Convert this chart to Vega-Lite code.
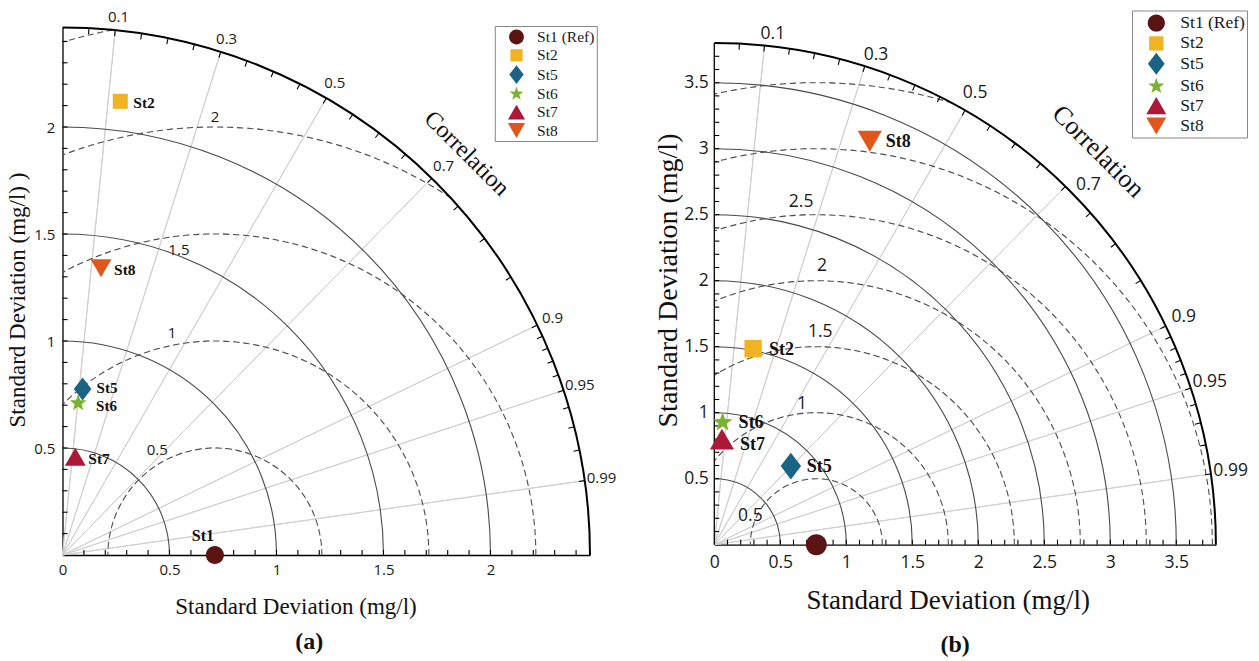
{
  "$schema": "https://vega.github.io/schema/vega-lite/v6.json",
  "background": "white",
  "padding": {"left": 6.5, "top": 9.5, "right": 5, "bottom": 5},
  "bounds": "flush",
  "spacing": 123.8,
  "config": {
    "view": {"stroke": null},
    "axis": {"grid": false, "domainColor": "#000", "domainWidth": 1.3, "labelFlush": false, "labelOverlap": false, "labelColor": "#1a1a1a", "labelFont": "Open Sans", "titleFont": "Liberation Serif", "titleFontWeight": "normal", "titleColor": "#111"}
  },
  "resolve": {
    "scale": {"x": "independent", "y": "independent", "color": "independent", "shape": "independent", "radius": "independent", "theta": "independent"},
    "legend": {"color": "independent", "shape": "independent"}
  },
  "datasets": {
    "corrLab": [
      {"label": "0.1", "angle": 5.739}, {"label": "0.3", "angle": 17.458}, {"label": "0.5", "angle": 30},
      {"label": "0.7", "angle": 44.427}, {"label": "0.9", "angle": 64.158}, {"label": "0.95", "angle": 71.805},
      {"label": "0.99", "angle": 81.89}
    ],
    "corrTick": [
      {"corr": 0.05, "angle": 2.866}, {"corr": 0.1, "angle": 5.739}, {"corr": 0.15, "angle": 8.627}, {"corr": 0.2, "angle": 11.537},
      {"corr": 0.25, "angle": 14.478}, {"corr": 0.3, "angle": 17.458}, {"corr": 0.35, "angle": 20.487}, {"corr": 0.4, "angle": 23.578},
      {"corr": 0.45, "angle": 26.744}, {"corr": 0.5, "angle": 30}, {"corr": 0.55, "angle": 33.367}, {"corr": 0.6, "angle": 36.87},
      {"corr": 0.65, "angle": 40.542}, {"corr": 0.7, "angle": 44.427}, {"corr": 0.75, "angle": 48.59}, {"corr": 0.8, "angle": 53.13},
      {"corr": 0.85, "angle": 58.212}, {"corr": 0.9, "angle": 64.158}, {"corr": 0.91, "angle": 65.505}, {"corr": 0.92, "angle": 66.926},
      {"corr": 0.93, "angle": 68.437}, {"corr": 0.94, "angle": 70.052}, {"corr": 0.95, "angle": 71.805}, {"corr": 0.96, "angle": 73.74},
      {"corr": 0.97, "angle": 75.93}, {"corr": 0.98, "angle": 78.522}, {"corr": 0.99, "angle": 81.89}
    ],
    "sdTickA": [
      {"v": 0.1}, {"v": 0.2}, {"v": 0.3}, {"v": 0.4}, {"v": 0.5}, {"v": 0.6}, {"v": 0.7}, {"v": 0.8}, {"v": 0.9}, {"v": 1},
      {"v": 1.1}, {"v": 1.2}, {"v": 1.3}, {"v": 1.4}, {"v": 1.5}, {"v": 1.6}, {"v": 1.7}, {"v": 1.8}, {"v": 1.9}, {"v": 2},
      {"v": 2.1}, {"v": 2.2}, {"v": 2.3}, {"v": 2.4}
    ],
    "sdTickB": [
      {"v": 0.1}, {"v": 0.2}, {"v": 0.3}, {"v": 0.4}, {"v": 0.5}, {"v": 0.6}, {"v": 0.7}, {"v": 0.8}, {"v": 0.9}, {"v": 1},
      {"v": 1.1}, {"v": 1.2}, {"v": 1.3}, {"v": 1.4}, {"v": 1.5}, {"v": 1.6}, {"v": 1.7}, {"v": 1.8}, {"v": 1.9}, {"v": 2},
      {"v": 2.1}, {"v": 2.2}, {"v": 2.3}, {"v": 2.4}, {"v": 2.5}, {"v": 2.6}, {"v": 2.7}, {"v": 2.8}, {"v": 2.9}, {"v": 3},
      {"v": 3.1}, {"v": 3.2}, {"v": 3.3}, {"v": 3.4}, {"v": 3.5}, {"v": 3.6}, {"v": 3.7}
    ],
    "ptsA": [
      {"station": "St1", "legend": "St1 (Ref)", "x": 0.712, "y": 0},
      {"station": "St2", "legend": "St2", "x": 0.27, "y": 2.12},
      {"station": "St5", "legend": "St5", "x": 0.094, "y": 0.776},
      {"station": "St6", "legend": "\u00a0St6", "x": 0.073, "y": 0.71},
      {"station": "St7", "legend": "\u00a0St7", "x": 0.06, "y": 0.459},
      {"station": "St8", "legend": "St8", "x": 0.18, "y": 1.34}
    ],
    "ptsB": [
      {"station": "St1", "legend": "St1 (Ref)", "x": 0.773, "y": 0},
      {"station": "St2", "legend": "St2", "x": 0.294, "y": 1.485},
      {"station": "St5", "legend": "St5", "x": 0.58, "y": 0.596},
      {"station": "St6", "legend": "\u00a0St6", "x": 0.063, "y": 0.927},
      {"station": "St7", "legend": "\u00a0St7", "x": 0.058, "y": 0.8},
      {"station": "St8", "legend": "St8", "x": 1.178, "y": 3.057}
    ]
  },
  "hconcat": [
    {
      "width": 527.5,
      "height": 527.5,
      "title": {"text": "(a)", "orient": "bottom", "anchor": "middle", "frame": "group", "font": "Liberation Serif", "fontSize": 24, "fontWeight": "bold", "color": "#111", "offset": 11, "dx": -17},
      "resolve": {"axis": {"x": "independent", "y": "independent"}},
      "layer": [
        {
          "data": {"name": "corrLab"},
          "mark": {"type": "arc", "filled": false, "stroke": "#cfcfcf", "strokeWidth": 1},
          "encoding": {
            "x": {"datum": 0, "type": "quantitative", "axis": null},
            "y": {"datum": 0, "type": "quantitative", "axis": null},
            "theta": {"field": "angle", "type": "quantitative", "stack": null, "scale": {"type": "linear", "domain": [0, 360], "range": [0, 6.283185307179586], "nice": false, "zero": false}},
            "theta2": {"field": "angle"},
            "radius": {"datum": 0, "type": "quantitative", "scale": {"type": "linear", "domain": [0, 2.465], "range": [0, 527.5], "nice": false, "zero": false}},
            "radius2": {"datum": 2.465}
          }
        },
        {
          "data": {"values": [{"s": 0.5}, {"s": 1}, {"s": 1.5}, {"s": 2}]},
          "mark": {"type": "arc", "filled": false, "stroke": "#4a4a4a", "strokeWidth": 1.1},
          "encoding": {
            "x": {"datum": 0, "type": "quantitative", "axis": null},
            "y": {"datum": 0, "type": "quantitative", "axis": null},
            "theta": {"datum": 0, "type": "quantitative"},
            "theta2": {"datum": 90},
            "radius": {"field": "s", "type": "quantitative", "stack": null},
            "radius2": {"field": "s"}
          }
        },
        {
          "data": {"values": [{"r": 0.5, "t1": 90, "t2": -90}]},
          "mark": {"type": "arc", "filled": false, "stroke": "#505050", "strokeWidth": 1.1, "strokeDash": [6, 4.096]},
          "encoding": {"x": {"datum": 0.712, "type": "quantitative", "axis": null}, "y": {"datum": 0, "type": "quantitative", "axis": null}, "theta": {"field": "t1", "type": "quantitative", "stack": null}, "theta2": {"field": "t2"}, "radius": {"field": "r", "type": "quantitative", "stack": null}, "radius2": {"field": "r"}}
        },
        {
          "data": {"values": [{"r": 1, "t1": 90, "t2": -45.4}]},
          "mark": {"type": "arc", "filled": false, "stroke": "#505050", "strokeWidth": 1.1, "strokeDash": [6, 4.054]},
          "encoding": {"x": {"datum": 0.712, "type": "quantitative", "axis": null}, "y": {"datum": 0, "type": "quantitative", "axis": null}, "theta": {"field": "t1", "type": "quantitative", "stack": null}, "theta2": {"field": "t2"}, "radius": {"field": "r", "type": "quantitative", "stack": null}, "radius2": {"field": "r"}}
        },
        {
          "data": {"values": [{"r": 1.5, "t1": 90, "t2": -28.33}]},
          "mark": {"type": "arc", "filled": false, "stroke": "#505050", "strokeWidth": 1.1, "strokeDash": [6, 3.999]},
          "encoding": {"x": {"datum": 0.712, "type": "quantitative", "axis": null}, "y": {"datum": 0, "type": "quantitative", "axis": null}, "theta": {"field": "t1", "type": "quantitative", "stack": null}, "theta2": {"field": "t2"}, "radius": {"field": "r", "type": "quantitative", "stack": null}, "radius2": {"field": "r"}}
        },
        {
          "data": {"values": [{"r": 2, "t1": 33.44, "t2": -20.86}]},
          "mark": {"type": "arc", "filled": false, "stroke": "#505050", "strokeWidth": 1.1, "strokeDash": [6, 4.066]},
          "encoding": {"x": {"datum": 0.712, "type": "quantitative", "axis": null}, "y": {"datum": 0, "type": "quantitative", "axis": null}, "theta": {"field": "t1", "type": "quantitative", "stack": null}, "theta2": {"field": "t2"}, "radius": {"field": "r", "type": "quantitative", "stack": null}, "radius2": {"field": "r"}}
        },
        {
          "data": {"values": [{"r": 2.5, "t1": -11.02, "t2": -16.55}]},
          "mark": {"type": "arc", "filled": false, "stroke": "#505050", "strokeWidth": 1.1, "strokeDash": [6, 3.728]},
          "encoding": {"x": {"datum": 0.712, "type": "quantitative", "axis": null}, "y": {"datum": 0, "type": "quantitative", "axis": null}, "theta": {"field": "t1", "type": "quantitative", "stack": null}, "theta2": {"field": "t2"}, "radius": {"field": "r", "type": "quantitative", "stack": null}, "radius2": {"field": "r"}}
        },
        {
          "data": {"values": [{}]},
          "mark": {"type": "arc", "filled": false, "stroke": "#000", "strokeWidth": 2},
          "encoding": {
            "x": {"datum": 0, "type": "quantitative", "axis": null},
            "y": {"datum": 0, "type": "quantitative", "axis": null},
            "theta": {"datum": 0, "type": "quantitative"},
            "theta2": {"datum": 90},
            "radius": {"datum": 2.465, "type": "quantitative"},
            "radius2": {"datum": 2.465}
          }
        },
        {
          "data": {"name": "corrTick"},
          "mark": {"type": "arc", "filled": false, "stroke": "#000", "strokeWidth": 1.1},
          "encoding": {
            "x": {"datum": 0, "type": "quantitative", "axis": null},
            "y": {"datum": 0, "type": "quantitative", "axis": null},
            "theta": {"field": "angle", "type": "quantitative", "stack": null},
            "theta2": {"field": "angle"},
            "radius": {"datum": 2.437, "type": "quantitative"},
            "radius2": {"datum": 2.465}
          }
        },
        {
          "data": {"name": "sdTickA"},
          "mark": {"type": "rule", "color": "#000", "strokeWidth": 1.1},
          "encoding": {
            "x": {"field": "v", "type": "quantitative", "axis": null},
            "y": {"datum": 0, "type": "quantitative", "axis": null},
            "y2": {"datum": 0.0234}
          }
        },
        {
          "data": {"name": "sdTickA"},
          "mark": {"type": "rule", "color": "#000", "strokeWidth": 1.1},
          "encoding": {
            "y": {"field": "v", "type": "quantitative", "axis": null},
            "x": {"datum": 0, "type": "quantitative", "axis": null},
            "x2": {"datum": 0.0234}
          }
        },
        {
          "data": {"name": "corrLab"},
          "transform": [{"filter": "datum.angle < 20"}],
          "mark": {"type": "text", "font": "Open Sans", "fontSize": 15, "color": "#1a1a1a", "align": "center", "baseline": "middle", "radiusOffset": 13, "dx": 2},
          "encoding": {
            "x": {"datum": 0, "type": "quantitative", "axis": null},
            "y": {"datum": 0, "type": "quantitative", "axis": null},
            "theta": {"field": "angle", "type": "quantitative", "stack": null},
            "radius": {"datum": 2.465, "type": "quantitative"},
            "text": {"field": "label"}
          }
        },
        {
          "data": {"name": "corrLab"},
          "transform": [{"filter": "datum.angle > 20"}],
          "mark": {"type": "text", "font": "Open Sans", "fontSize": 15, "color": "#1a1a1a", "align": "center", "baseline": "middle", "radiusOffset": 17},
          "encoding": {
            "x": {"datum": 0, "type": "quantitative", "axis": null},
            "y": {"datum": 0, "type": "quantitative", "axis": null},
            "theta": {"field": "angle", "type": "quantitative", "stack": null},
            "radius": {"datum": 2.465, "type": "quantitative"},
            "text": {"field": "label"}
          }
        },
        {
          "data": {"values": [{"t": "Correlation"}]},
          "mark": {"type": "text", "font": "Liberation Serif", "fontSize": 24, "color": "#111", "align": "center", "baseline": "middle", "angle": 45, "radiusOffset": 42},
          "encoding": {
            "x": {"datum": 0, "type": "quantitative", "axis": null},
            "y": {"datum": 0, "type": "quantitative", "axis": null},
            "theta": {"datum": 45.2, "type": "quantitative"},
            "radius": {"datum": 2.465, "type": "quantitative"},
            "text": {"field": "t"}
          }
        },
        {
          "data": {"values": [
            {"lab": "0.5", "lx": 0.443, "ly": 0.493},
            {"lab": "1", "lx": 0.512, "ly": 1.037},
            {"lab": "1.5", "lx": 0.544, "ly": 1.425},
            {"lab": "2", "lx": 0.713, "ly": 2.048}
          ]},
          "mark": {"type": "text", "font": "Open Sans", "fontSize": 15, "color": "#1a1a1a", "align": "center", "baseline": "middle"},
          "encoding": {
            "x": {"field": "lx", "type": "quantitative", "axis": null},
            "y": {"field": "ly", "type": "quantitative", "axis": null},
            "text": {"field": "lab"}
          }
        },
        {
          "data": {"name": "ptsA"},
          "mark": {"type": "point", "filled": true, "opacity": 1, "size": 484, "strokeWidth": 0},
          "encoding": {
            "x": {"field": "x", "type": "quantitative", "scale": {"domain": [0, 2.465], "nice": false, "zero": false},
              "axis": {"orient": "bottom", "values": [0, 0.5, 1, 1.5, 2], "format": "~g", "ticks": false, "labelOverlap": false, "labelFlush": false,
                "labelFontSize": 15, "labelPadding": 7, "title": "Standard Deviation (mg/l)", "titleFontSize": 23, "titlePadding": 18.5, "titleX": 233}},
            "y": {"field": "y", "type": "quantitative", "scale": {"domain": [0, 2.465], "nice": false, "zero": false},
              "axis": {"orient": "left", "values": [0.5, 1, 1.5, 2], "format": "~g", "ticks": false, "labelOverlap": false, "labelFlush": false,
                "labelFontSize": 15, "labelPadding": 7.7, "title": "Standard Deviation (mg/l) )", "titleFontSize": 23, "titlePadding": 4, "titleY": 272}},
            "color": {"field": "legend", "type": "nominal",
              "scale": {"domain": ["St1 (Ref)", "St2", "St5", "\u00a0St6", "\u00a0St7", "St8"], "range": ["#5a1414", "#f0b323", "#1b6384", "#78b32e", "#ac1838", "#e0561b"]},
              "legend": {"title": null, "orient": "none", "legendX": 432.3, "legendY": -1.5, "labelFont": "Liberation Serif", "labelFontSize": 15.5, "labelColor": "#1a1a1a", "symbolSize": 324, "symbolStrokeWidth": 0, "symbolOffset": 10.7, "strokeColor": "#888", "fillColor": "#fff", "padding": 2, "rowPadding": 0.3, "labelOffset": 11.6}},
            "shape": {"field": "legend", "type": "nominal",
              "scale": {"domain": ["St1 (Ref)", "St2", "St5", "\u00a0St6", "\u00a0St7", "St8"], "range": [
                "M0.82,0A0.82,0.82,0,1,1,-0.82,0A0.82,0.82,0,1,1,0.82,0Z",
                "M-0.68,-0.68L0.68,-0.68L0.68,0.68L-0.68,0.68Z",
                "M0,-1.05L0.8,0L0,1.05L-0.8,0Z",
                "M0,-0.8L0.194,-0.267L0.761,-0.247L0.314,0.102L0.47,0.647L0,0.33L-0.47,0.647L-0.314,0.102L-0.761,-0.247L-0.194,-0.267Z",
                "M0,-0.82L0.95,0.82L-0.95,0.82Z",
                "M-0.95,-0.82L0.95,-0.82L0,0.82Z"]},
              "legend": {"title": null, "orient": "none", "legendX": 432.3, "legendY": -1.5, "labelFont": "Liberation Serif", "labelFontSize": 15.5, "labelColor": "#1a1a1a", "symbolSize": 324, "symbolStrokeWidth": 0, "symbolOffset": 10.7, "strokeColor": "#888", "fillColor": "#fff", "padding": 2, "rowPadding": 0.3, "labelOffset": 11.6}}
          }
        },
        {
          "data": {"name": "ptsA"},
          "transform": [{"filter": "datum.station == 'St2' || datum.station == 'St8' || datum.station == 'St7'"}],
          "mark": {"type": "text", "font": "Liberation Serif", "fontSize": 15.5, "fontWeight": "bold", "color": "#111", "align": "left", "baseline": "middle", "dx": 13, "dy": 2},
          "encoding": {
            "x": {"field": "x", "type": "quantitative", "axis": null},
            "y": {"field": "y", "type": "quantitative", "axis": null},
            "text": {"field": "station"}
          }
        },
        {
          "data": {"name": "ptsA"},
          "transform": [{"filter": "datum.station == 'St5'"}],
          "mark": {"type": "text", "font": "Liberation Serif", "fontSize": 15, "fontWeight": "bold", "color": "#111", "align": "left", "baseline": "middle", "dx": 14, "dy": -1},
          "encoding": {
            "x": {"field": "x", "type": "quantitative", "axis": null},
            "y": {"field": "y", "type": "quantitative", "axis": null},
            "text": {"field": "station"}
          }
        },
        {
          "data": {"name": "ptsA"},
          "transform": [{"filter": "datum.station == 'St6'"}],
          "mark": {"type": "text", "font": "Liberation Serif", "fontSize": 15, "fontWeight": "bold", "color": "#111", "align": "left", "baseline": "middle", "dx": 18, "dy": 3},
          "encoding": {
            "x": {"field": "x", "type": "quantitative", "axis": null},
            "y": {"field": "y", "type": "quantitative", "axis": null},
            "text": {"field": "station"}
          }
        },
        {
          "data": {"name": "ptsA"},
          "transform": [{"filter": "datum.station == 'St1'"}],
          "mark": {"type": "text", "font": "Liberation Serif", "fontSize": 16, "fontWeight": "bold", "color": "#111", "align": "center", "baseline": "middle", "dx": -12, "dy": -19},
          "encoding": {
            "x": {"field": "x", "type": "quantitative", "axis": null},
            "y": {"field": "y", "type": "quantitative", "axis": null},
            "text": {"field": "station"}
          }
        }
      ]
    },
    {
      "width": 501.6,
      "height": 517.2,
      "title": {"text": "(b)", "orient": "bottom", "anchor": "middle", "frame": "group", "font": "Liberation Serif", "fontSize": 24, "fontWeight": "bold", "color": "#111", "offset": 19, "dx": -10},
      "resolve": {"axis": {"x": "independent", "y": "independent"}},
      "layer": [
        {
          "data": {"name": "corrLab"},
          "mark": {"type": "arc", "filled": false, "stroke": "#cfcfcf", "strokeWidth": 1},
          "encoding": {
            "x": {"datum": 0, "type": "quantitative", "axis": null},
            "y": {"datum": 0, "type": "quantitative", "axis": null},
            "theta": {"field": "angle", "type": "quantitative", "stack": null, "scale": {"type": "linear", "domain": [0, 360], "range": [0, 6.283185307179586], "nice": false, "zero": false}},
            "theta2": {"field": "angle"},
            "radius": {"datum": 0, "type": "quantitative", "scale": {"type": "linear", "domain": [0, 3.8], "range": [0, 501.6], "nice": false, "zero": false}},
            "radius2": {"datum": 3.8}
          }
        },
        {
          "data": {"values": [{"s": 0.5}, {"s": 1}, {"s": 1.5}, {"s": 2}, {"s": 2.5}, {"s": 3}, {"s": 3.5}]},
          "mark": {"type": "arc", "filled": false, "stroke": "#4a4a4a", "strokeWidth": 1.1},
          "encoding": {
            "x": {"datum": 0, "type": "quantitative", "axis": null},
            "y": {"datum": 0, "type": "quantitative", "axis": null},
            "theta": {"datum": 0, "type": "quantitative"},
            "theta2": {"datum": 90},
            "radius": {"field": "s", "type": "quantitative", "stack": null},
            "radius2": {"field": "s"}
          }
        },
        {
          "data": {"values": [{"r": 0.5, "t1": 90, "t2": -90}]},
          "mark": {"type": "arc", "filled": false, "stroke": "#505050", "strokeWidth": 1.1, "strokeDash": [6, 4.217]},
          "encoding": {"x": {"datum": 0.773, "type": "quantitative", "axis": null}, "y": {"datum": 0, "type": "quantitative", "axis": null}, "theta": {"field": "t1", "type": "quantitative", "stack": null}, "theta2": {"field": "t2"}, "radius": {"field": "r", "type": "quantitative", "stack": null}, "radius2": {"field": "r"}}
        },
        {
          "data": {"values": [{"r": 1, "t1": 90, "t2": -50.62}]},
          "mark": {"type": "arc", "filled": false, "stroke": "#505050", "strokeWidth": 1.1, "strokeDash": [6, 4.03]},
          "encoding": {"x": {"datum": 0.773, "type": "quantitative", "axis": null}, "y": {"datum": 0, "type": "quantitative", "axis": null}, "theta": {"field": "t1", "type": "quantitative", "stack": null}, "theta2": {"field": "t2"}, "radius": {"field": "r", "type": "quantitative", "stack": null}, "radius2": {"field": "r"}}
        },
        {
          "data": {"values": [{"r": 1.5, "t1": 90, "t2": -31.02}]},
          "mark": {"type": "arc", "filled": false, "stroke": "#505050", "strokeWidth": 1.1, "strokeDash": [6, 3.886]},
          "encoding": {"x": {"datum": 0.773, "type": "quantitative", "axis": null}, "y": {"datum": 0, "type": "quantitative", "axis": null}, "theta": {"field": "t1", "type": "quantitative", "stack": null}, "theta2": {"field": "t2"}, "radius": {"field": "r", "type": "quantitative", "stack": null}, "radius2": {"field": "r"}}
        },
        {
          "data": {"values": [{"r": 2, "t1": 90, "t2": -22.74}]},
          "mark": {"type": "arc", "filled": false, "stroke": "#505050", "strokeWidth": 1.1, "strokeDash": [6, 3.932]},
          "encoding": {"x": {"datum": 0.773, "type": "quantitative", "axis": null}, "y": {"datum": 0, "type": "quantitative", "axis": null}, "theta": {"field": "t1", "type": "quantitative", "stack": null}, "theta2": {"field": "t2"}, "radius": {"field": "r", "type": "quantitative", "stack": null}, "radius2": {"field": "r"}}
        },
        {
          "data": {"values": [{"r": 2.5, "t1": 90, "t2": -18.01}]},
          "mark": {"type": "arc", "filled": false, "stroke": "#505050", "strokeWidth": 1.1, "strokeDash": [6, 3.985]},
          "encoding": {"x": {"datum": 0.773, "type": "quantitative", "axis": null}, "y": {"datum": 0, "type": "quantitative", "axis": null}, "theta": {"field": "t1", "type": "quantitative", "stack": null}, "theta2": {"field": "t2"}, "radius": {"field": "r", "type": "quantitative", "stack": null}, "radius2": {"field": "r"}}
        },
        {
          "data": {"values": [{"r": 3, "t1": 90, "t2": -14.93}]},
          "mark": {"type": "arc", "filled": false, "stroke": "#505050", "strokeWidth": 1.1, "strokeDash": [6, 4.031]},
          "encoding": {"x": {"datum": 0.773, "type": "quantitative", "axis": null}, "y": {"datum": 0, "type": "quantitative", "axis": null}, "theta": {"field": "t1", "type": "quantitative", "stack": null}, "theta2": {"field": "t2"}, "radius": {"field": "r", "type": "quantitative", "stack": null}, "radius2": {"field": "r"}}
        },
        {
          "data": {"values": [{"r": 3.5, "t1": 17.12, "t2": -12.76}]},
          "mark": {"type": "arc", "filled": false, "stroke": "#505050", "strokeWidth": 1.1, "strokeDash": [6, 3.914]},
          "encoding": {"x": {"datum": 0.773, "type": "quantitative", "axis": null}, "y": {"datum": 0, "type": "quantitative", "axis": null}, "theta": {"field": "t1", "type": "quantitative", "stack": null}, "theta2": {"field": "t2"}, "radius": {"field": "r", "type": "quantitative", "stack": null}, "radius2": {"field": "r"}}
        },
        {
          "data": {"values": [{}]},
          "mark": {"type": "arc", "filled": false, "stroke": "#000", "strokeWidth": 2},
          "encoding": {
            "x": {"datum": 0, "type": "quantitative", "axis": null},
            "y": {"datum": 0, "type": "quantitative", "axis": null},
            "theta": {"datum": 0, "type": "quantitative"},
            "theta2": {"datum": 90},
            "radius": {"datum": 3.8, "type": "quantitative"},
            "radius2": {"datum": 3.8}
          }
        },
        {
          "data": {"name": "corrTick"},
          "mark": {"type": "arc", "filled": false, "stroke": "#000", "strokeWidth": 1.1},
          "encoding": {
            "x": {"datum": 0, "type": "quantitative", "axis": null},
            "y": {"datum": 0, "type": "quantitative", "axis": null},
            "theta": {"field": "angle", "type": "quantitative", "stack": null},
            "theta2": {"field": "angle"},
            "radius": {"datum": 3.755, "type": "quantitative"},
            "radius2": {"datum": 3.8}
          }
        },
        {
          "data": {"values": [{}]},
          "mark": {"type": "rule", "color": "#000", "strokeWidth": 1.3},
          "encoding": {
            "x": {"datum": 0, "type": "quantitative", "axis": null},
            "y": {"datum": 0, "type": "quantitative", "axis": null},
            "y2": {"datum": 3.8}
          }
        },
        {
          "data": {"name": "sdTickB"},
          "mark": {"type": "rule", "color": "#000", "strokeWidth": 1.1},
          "encoding": {
            "x": {"field": "v", "type": "quantitative", "axis": null},
            "y": {"datum": 0, "type": "quantitative", "axis": null},
            "y2": {"datum": 0.0379}
          }
        },
        {
          "data": {"name": "sdTickB"},
          "mark": {"type": "rule", "color": "#000", "strokeWidth": 1.1},
          "encoding": {
            "y": {"field": "v", "type": "quantitative", "axis": null},
            "x": {"datum": 0, "type": "quantitative", "axis": null},
            "x2": {"datum": 0.0379}
          }
        },
        {
          "data": {"name": "corrLab"},
          "transform": [{"filter": "datum.angle < 20"}],
          "mark": {"type": "text", "font": "Open Sans", "fontSize": 17.5, "color": "#1a1a1a", "align": "center", "baseline": "middle", "radiusOffset": 14, "dx": 7, "dy": 2},
          "encoding": {
            "x": {"datum": 0, "type": "quantitative", "axis": null},
            "y": {"datum": 0, "type": "quantitative", "axis": null},
            "theta": {"field": "angle", "type": "quantitative", "stack": null},
            "radius": {"datum": 3.8, "type": "quantitative"},
            "text": {"field": "label"}
          }
        },
        {
          "data": {"name": "corrLab"},
          "transform": [{"filter": "datum.angle > 20 && datum.label != '0.7'"}],
          "mark": {"type": "text", "font": "Open Sans", "fontSize": 17.5, "color": "#1a1a1a", "align": "center", "baseline": "middle", "radiusOffset": 20},
          "encoding": {
            "x": {"datum": 0, "type": "quantitative", "axis": null},
            "y": {"datum": 0, "type": "quantitative", "axis": null},
            "theta": {"field": "angle", "type": "quantitative", "stack": null},
            "radius": {"datum": 3.8, "type": "quantitative"},
            "text": {"field": "label"}
          }
        },
        {
          "data": {"name": "corrLab"},
          "transform": [{"filter": "datum.label == '0.7'"}],
          "mark": {"type": "text", "font": "Open Sans", "fontSize": 17.5, "color": "#1a1a1a", "align": "center", "baseline": "middle", "radiusOffset": 20, "dx": 9, "dy": 13},
          "encoding": {
            "x": {"datum": 0, "type": "quantitative", "axis": null},
            "y": {"datum": 0, "type": "quantitative", "axis": null},
            "theta": {"field": "angle", "type": "quantitative", "stack": null},
            "radius": {"datum": 3.8, "type": "quantitative"},
            "text": {"field": "label"}
          }
        },
        {
          "data": {"values": [{"t": "Correlation"}]},
          "mark": {"type": "text", "font": "Liberation Serif", "fontSize": 26, "color": "#111", "align": "center", "baseline": "middle", "angle": 45, "radiusOffset": 48},
          "encoding": {
            "x": {"datum": 0, "type": "quantitative", "axis": null},
            "y": {"datum": 0, "type": "quantitative", "axis": null},
            "theta": {"datum": 44.3, "type": "quantitative"},
            "radius": {"datum": 3.8, "type": "quantitative"},
            "text": {"field": "t"}
          }
        },
        {
          "data": {"values": [
            {"lab": "0.5", "lx": 0.273, "ly": 0.22},
            {"lab": "1", "lx": 0.664, "ly": 1.066},
            {"lab": "1.5", "lx": 0.803, "ly": 1.611},
            {"lab": "2", "lx": 0.816, "ly": 2.108},
            {"lab": "2.5", "lx": 0.658, "ly": 2.594}
          ]},
          "mark": {"type": "text", "font": "Open Sans", "fontSize": 17.5, "color": "#1a1a1a", "align": "center", "baseline": "middle"},
          "encoding": {
            "x": {"field": "lx", "type": "quantitative", "axis": null},
            "y": {"field": "ly", "type": "quantitative", "axis": null},
            "text": {"field": "lab"}
          }
        },
        {
          "data": {"name": "ptsB"},
          "mark": {"type": "point", "filled": true, "opacity": 1, "size": 650, "strokeWidth": 0},
          "encoding": {
            "x": {"field": "x", "type": "quantitative", "scale": {"domain": [0, 3.8], "nice": false, "zero": false},
              "axis": {"orient": "bottom", "values": [0, 0.5, 1, 1.5, 2, 2.5, 3, 3.5], "format": "~g", "ticks": false, "labelOverlap": false, "labelFlush": false,
                "labelFontSize": 17.5, "labelPadding": 9, "title": "Standard Deviation (mg/l)", "titleFontSize": 27, "titlePadding": 16.5, "titleX": 233.5}},
            "y": {"field": "y", "type": "quantitative", "scale": {"domain": [0, 3.9182], "nice": false, "zero": false},
              "axis": {"orient": "left", "values": [0.5, 1, 1.5, 2, 2.5, 3, 3.5], "format": "~g", "ticks": false, "domain": false, "labelOverlap": false, "labelFlush": false,
                "labelFontSize": 17.5, "labelPadding": 6, "title": "Standard Deviation (mg/l)", "titleFontSize": 28, "titlePadding": 1, "titleY": 252.5}},
            "color": {"field": "legend", "type": "nominal",
              "scale": {"domain": ["St1 (Ref)", "St2", "St5", "\u00a0St6", "\u00a0St7", "St8"], "range": ["#5a1414", "#f0b323", "#1b6384", "#78b32e", "#ac1838", "#e0561b"]},
              "legend": {"title": null, "orient": "none", "legendX": 417.7, "legendY": -17, "labelFont": "Liberation Serif", "labelFontSize": 17.5, "labelColor": "#1a1a1a", "symbolSize": 441, "symbolStrokeWidth": 0, "symbolOffset": 11.8, "strokeColor": "#888", "fillColor": "#fff", "padding": 2, "rowPadding": 0.4, "labelOffset": 13.5}},
            "shape": {"field": "legend", "type": "nominal",
              "scale": {"domain": ["St1 (Ref)", "St2", "St5", "\u00a0St6", "\u00a0St7", "St8"], "range": [
                "M0.82,0A0.82,0.82,0,1,1,-0.82,0A0.82,0.82,0,1,1,0.82,0Z",
                "M-0.68,-0.68L0.68,-0.68L0.68,0.68L-0.68,0.68Z",
                "M0,-1.05L0.8,0L0,1.05L-0.8,0Z",
                "M0,-0.8L0.194,-0.267L0.761,-0.247L0.314,0.102L0.47,0.647L0,0.33L-0.47,0.647L-0.314,0.102L-0.761,-0.247L-0.194,-0.267Z",
                "M0,-0.82L0.95,0.82L-0.95,0.82Z",
                "M-0.95,-0.82L0.95,-0.82L0,0.82Z"]},
              "legend": {"title": null, "orient": "none", "legendX": 417.7, "legendY": -17, "labelFont": "Liberation Serif", "labelFontSize": 17.5, "labelColor": "#1a1a1a", "symbolSize": 441, "symbolStrokeWidth": 0, "symbolOffset": 11.8, "strokeColor": "#888", "fillColor": "#fff", "padding": 2, "rowPadding": 0.4, "labelOffset": 13.5}}
          }
        },
        {
          "data": {"name": "ptsB"},
          "transform": [{"filter": "datum.station != 'St1' && datum.station != 'St7'"}],
          "mark": {"type": "text", "font": "Liberation Serif", "fontSize": 18, "fontWeight": "bold", "color": "#111", "align": "left", "baseline": "middle", "dx": 16, "dy": 1},
          "encoding": {
            "x": {"field": "x", "type": "quantitative", "axis": null},
            "y": {"field": "y", "type": "quantitative", "axis": null},
            "text": {"field": "station"}
          }
        },
        {
          "data": {"name": "ptsB"},
          "transform": [{"filter": "datum.station == 'St7'"}],
          "mark": {"type": "text", "font": "Liberation Serif", "fontSize": 18, "fontWeight": "bold", "color": "#111", "align": "left", "baseline": "middle", "dx": 18, "dy": 6},
          "encoding": {
            "x": {"field": "x", "type": "quantitative", "axis": null},
            "y": {"field": "y", "type": "quantitative", "axis": null},
            "text": {"field": "station"}
          }
        }
      ]
    }
  ]
}
